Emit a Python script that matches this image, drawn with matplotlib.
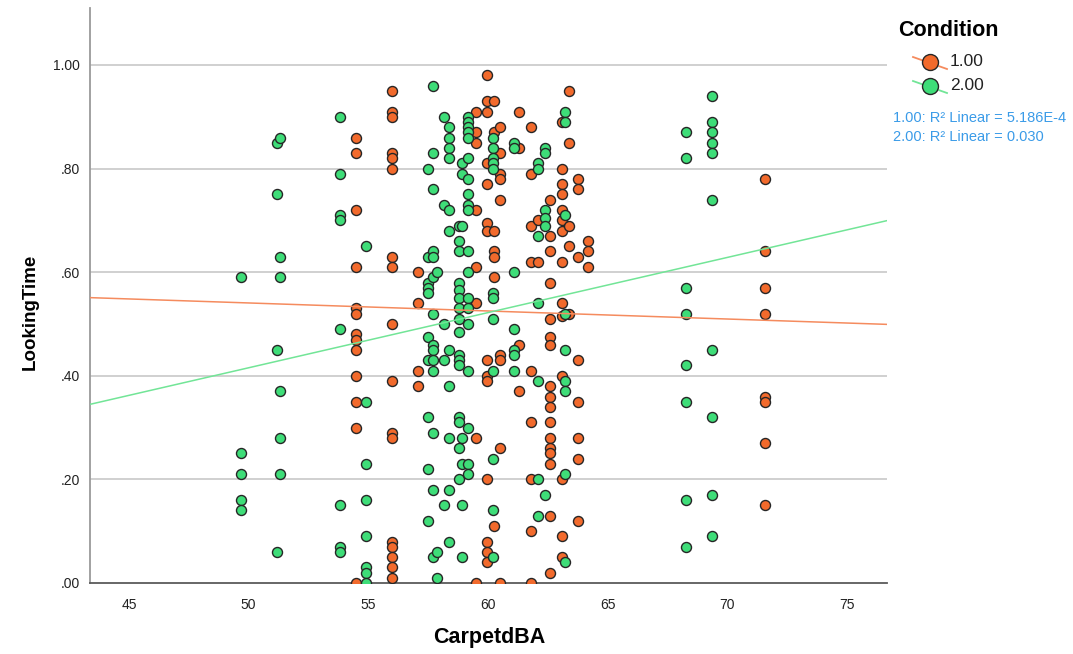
import matplotlib
matplotlib.use("Agg")
import matplotlib.pyplot as plt
from matplotlib.lines import Line2D

plt.rcParams['font.family'] = ['Liberation Sans', 'DejaVu Sans']

# Condition 1.00 (orange)
cond1_x = [
    54.49, 54.49, 54.49, 54.49, 54.49, 54.49, 54.49, 54.49, 54.49, 54.49, 54.49, 54.49, 54.49,
    55.99, 55.99, 55.99, 55.99, 55.99, 55.99, 55.99, 55.99, 55.99, 55.99, 55.99, 55.99, 55.99, 55.99, 55.99, 55.99, 55.99,
    57.08, 57.08, 57.08, 57.08,
    59.48, 59.48, 59.48, 59.48, 59.48, 59.48, 59.48, 59.48,
    59.94, 59.94, 59.94, 59.94, 59.94, 59.94, 59.94, 59.94, 59.94, 59.94, 59.94, 59.94, 59.94, 59.94,
    60.23, 60.23, 60.23, 60.23, 60.23, 60.23, 60.23,
    60.48, 60.48, 60.48, 60.48, 60.48, 60.48, 60.48, 60.48, 60.48,
    61.30, 61.30, 61.30, 61.30,
    61.80, 61.80, 61.80, 61.80, 61.80, 61.80, 61.80, 61.80, 61.80,
    62.09, 62.09,
    62.59, 62.59, 62.59, 62.59, 62.59, 62.59, 62.59, 62.59, 62.59, 62.59, 62.59, 62.59, 62.59, 62.59, 62.59, 62.59, 62.59,
    63.10, 63.10, 63.10, 63.10, 63.10, 63.10, 63.10, 63.10, 63.10, 63.10, 63.10, 63.10, 63.10, 63.10,
    63.39, 63.39, 63.39, 63.39, 63.39,
    63.78, 63.78, 63.78, 63.78, 63.78, 63.78, 63.78, 63.78,
    64.18, 64.18, 64.18,
    71.58, 71.58, 71.58, 71.58, 71.58, 71.58, 71.58, 71.58,
]
cond1_y = [
    0.86, 0.83, 0.72, 0.61, 0.53, 0.52, 0.48, 0.47, 0.45, 0.40, 0.35, 0.30, 0.00,
    0.95, 0.91, 0.90, 0.83, 0.82, 0.80, 0.63, 0.61, 0.50, 0.39, 0.29, 0.28, 0.08, 0.07, 0.05, 0.03, 0.01,
    0.60, 0.54, 0.41, 0.38,
    0.91, 0.87, 0.85, 0.72, 0.61, 0.54, 0.28, 0.00,
    0.98, 0.93, 0.91, 0.81, 0.77, 0.695, 0.68, 0.43, 0.40, 0.39, 0.20, 0.08, 0.06, 0.04,
    0.93, 0.87, 0.68, 0.64, 0.63, 0.59, 0.11,
    0.88, 0.83, 0.79, 0.78, 0.74, 0.44, 0.43, 0.26, 0.00,
    0.91, 0.84, 0.46, 0.37,
    0.88, 0.79, 0.69, 0.62, 0.41, 0.31, 0.20, 0.10, 0.00,
    0.70, 0.62,
    0.74, 0.67, 0.64, 0.58, 0.51, 0.475, 0.46, 0.38, 0.36, 0.34, 0.31, 0.28, 0.26, 0.25, 0.23, 0.13, 0.02,
    0.89, 0.80, 0.77, 0.75, 0.72, 0.70, 0.68, 0.62, 0.54, 0.515, 0.40, 0.20, 0.09, 0.05,
    0.95, 0.85, 0.69, 0.65, 0.52,
    0.78, 0.76, 0.63, 0.43, 0.35, 0.28, 0.24, 0.12,
    0.66, 0.64, 0.61,
    0.78, 0.64, 0.57, 0.52, 0.36, 0.35, 0.27, 0.15,
]

# Condition 2.00 (green)
cond2_x = [
    49.68, 49.68, 49.68, 49.68, 49.68,
    51.18, 51.18, 51.18, 51.18,
    51.31, 51.31, 51.31, 51.31, 51.31, 51.31,
    53.82, 53.82, 53.82, 53.82, 53.82, 53.82, 53.82, 53.82,
    54.90, 54.90, 54.90, 54.90, 54.90, 54.90, 54.90, 54.90,
    57.49, 57.49, 57.49, 57.49, 57.49, 57.49, 57.49, 57.49, 57.49, 57.49,
    57.70, 57.70, 57.70, 57.70, 57.70, 57.70, 57.70, 57.70, 57.70, 57.70, 57.70, 57.70, 57.70, 57.70,
    57.87, 57.87, 57.87,
    58.14, 58.14, 58.14, 58.14, 58.14,
    58.37, 58.37, 58.37, 58.37, 58.37, 58.37, 58.37, 58.37, 58.37, 58.37, 58.37,
    58.77, 58.77, 58.77, 58.77, 58.77, 58.77, 58.77, 58.77, 58.77, 58.77, 58.77, 58.77, 58.77, 58.77, 58.77, 58.77,
    58.90, 58.90, 58.90, 58.90, 58.90, 58.90, 58.90,
    59.17, 59.17, 59.17, 59.17, 59.17, 59.17, 59.17, 59.17, 59.17, 59.17, 59.17, 59.17, 59.17, 59.17, 59.17, 59.17, 59.17, 59.17, 59.17,
    60.21, 60.21, 60.21, 60.21, 60.21, 60.21, 60.21, 60.21, 60.21, 60.21, 60.21, 60.21,
    61.09, 61.09, 61.09, 61.09, 61.09, 61.09, 61.09,
    62.09, 62.09, 62.09, 62.09, 62.09, 62.09, 62.09,
    62.38, 62.38, 62.38, 62.38, 62.38, 62.38,
    63.22, 63.22, 63.22, 63.22, 63.22, 63.22, 63.22, 63.22, 63.22,
    68.28, 68.28, 68.28, 68.28, 68.28, 68.28, 68.28, 68.28,
    69.36, 69.36, 69.36, 69.36, 69.36, 69.36, 69.36, 69.36, 69.36, 69.36,
]
cond2_y = [
    0.59, 0.25, 0.21, 0.16, 0.14,
    0.85, 0.75, 0.45, 0.06,
    0.86, 0.63, 0.59, 0.37, 0.28, 0.21,
    0.90, 0.79, 0.71, 0.70, 0.49, 0.15, 0.07, 0.06,
    0.65, 0.35, 0.23, 0.16, 0.09, 0.03, 0.02, 0.00,
    0.80, 0.63, 0.58, 0.57, 0.56, 0.475, 0.43, 0.32, 0.22, 0.12,
    0.96, 0.83, 0.76, 0.64, 0.63, 0.59, 0.52, 0.46, 0.45, 0.43, 0.41, 0.29, 0.18, 0.05,
    0.60, 0.06, 0.01,
    0.90, 0.73, 0.50, 0.43, 0.15,
    0.88, 0.86, 0.84, 0.82, 0.72, 0.68, 0.45, 0.38, 0.28, 0.18, 0.08,
    0.69, 0.66, 0.64, 0.58, 0.566, 0.55, 0.53, 0.51, 0.485, 0.44, 0.43, 0.42, 0.32, 0.31, 0.26, 0.20,
    0.81, 0.79, 0.69, 0.28, 0.23, 0.15, 0.05,
    0.90, 0.89, 0.88, 0.87, 0.86, 0.82, 0.78, 0.75, 0.73, 0.72, 0.64, 0.60, 0.55, 0.53, 0.50, 0.41, 0.30, 0.23, 0.21,
    0.86, 0.84, 0.82, 0.81, 0.80, 0.56, 0.55, 0.51, 0.41, 0.24, 0.14, 0.05,
    0.85, 0.84, 0.60, 0.49, 0.45, 0.44, 0.41,
    0.81, 0.80, 0.67, 0.54, 0.39, 0.20, 0.13,
    0.84, 0.83, 0.72, 0.705, 0.69, 0.17,
    0.91, 0.89, 0.71, 0.52, 0.45, 0.39, 0.37, 0.21, 0.04,
    0.87, 0.82, 0.57, 0.52, 0.42, 0.35, 0.16, 0.07,
    0.94, 0.89, 0.87, 0.85, 0.83, 0.74, 0.45, 0.32, 0.17, 0.09,
]

# Linear fit lines (intercept, slope) and their R² labels
fit1 = (0.6181, -0.00155)
fit2 = (-0.1170, 0.01065)
condition_labels = ['1.00', '2.00']
r2_labels = ['1.00: R\u00b2 Linear = 5.186E-4', '2.00: R\u00b2 Linear = 0.030']

x_ticks = [45, 50, 55, 60, 65, 70, 75]
y_ticks = [0.0, 0.2, 0.4, 0.6, 0.8, 1.0]
y_tick_labels = ['.00', '.20', '.40', '.60', '.80', '1.00']

fill1, fill2 = '#F26A2C', '#3EDD78'
line1, line2 = '#F58B5E', '#72E597'
edge = '#262626'

W, H = 1073, 654
fig = plt.figure(figsize=(W / 100, H / 100), dpi=100)
ax = fig.add_axes([90 / W, 1 - 583 / H, (887 - 90) / W, (583 - 8) / H])
xlim = (43.37, 76.67)
ax.set_xlim(*xlim)
ax.set_ylim(0, 1.11)

for y in y_ticks[1:]:
    ax.axhline(y, color='#CDCDCD', lw=1.3, zorder=0)

ax.scatter(cond1_x, cond1_y, s=52, c=fill1, edgecolors=edge, linewidths=1.0, zorder=3)
ax.scatter(cond2_x, cond2_y, s=52, c=fill2, edgecolors=edge, linewidths=1.0, zorder=3)

for (b0, b1), col in ((fit1, line1), (fit2, line2)):
    ax.plot(xlim, [b0 + b1 * xlim[0], b0 + b1 * xlim[1]], color=col, lw=1.1, zorder=4)

ax.set_xticks(x_ticks)
ax.set_yticks(y_ticks)
ax.set_yticklabels(y_tick_labels)
ax.tick_params(length=0, labelsize=10, colors='#222222')
ax.tick_params(axis='x', pad=11)
ax.tick_params(axis='y', pad=7)
for side in ('top', 'right'):
    ax.spines[side].set_visible(False)
ax.spines['left'].set_color('#9A9A9A')
ax.spines['left'].set_linewidth(1.3)
ax.spines['bottom'].set_color('#5A5A5A')
ax.spines['bottom'].set_linewidth(1.3)

fig.text(489 / W, 1 - 638 / H, 'CarpetdBA', fontsize=15.5, fontweight='bold',
         ha='center', va='center')
fig.text(30 / W, 1 - 312 / H, 'LookingTime', fontsize=13.5, fontweight='bold',
         ha='center', va='center', rotation=90)

# Legend
def fx(px):
    return px / W

def fy(py):
    return 1 - py / H

fig.text(fx(898), fy(30), 'Condition', fontsize=15.5, fontweight='bold',
         ha='left', va='center')
for i, (lab, fill, lcol) in enumerate(zip(condition_labels, (fill1, fill2), (line1, line2))):
    cy = 62 + 24 * i
    fig.add_artist(Line2D([fx(913), fx(947)], [fy(cy - 5), fy(cy + 7)],
                          transform=fig.transFigure, color=lcol, lw=1.3))
    fig.add_artist(Line2D([fx(930)], [fy(cy)], transform=fig.transFigure,
                          marker='o', markersize=11.5, markerfacecolor=fill,
                          markeredgecolor=edge, markeredgewidth=1.0, linestyle='none'))
    fig.text(fx(950), fy(cy), lab, fontsize=12.5, ha='left', va='center', color='#222222')

for i, txt in enumerate(r2_labels):
    fig.text(fx(893), fy(118 + 19 * i), txt, fontsize=10.5, ha='left', va='center',
             color='#3A9BE8')

fig.savefig('out.png', dpi=100)
